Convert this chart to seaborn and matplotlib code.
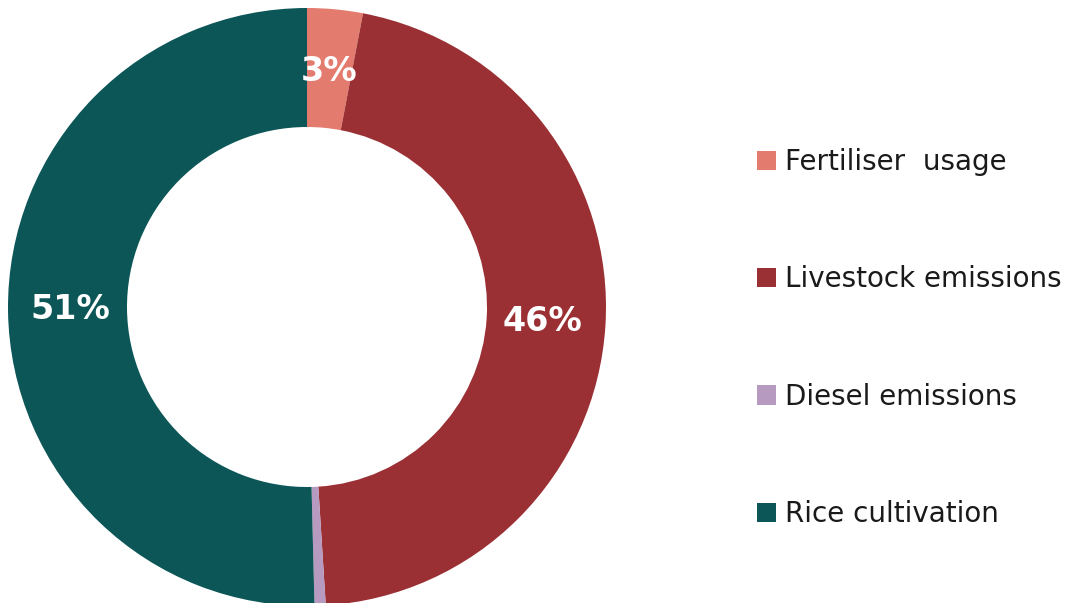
import matplotlib
matplotlib.use("Agg")
import matplotlib.pyplot as plt
import seaborn as sns

categories = ["Fertiliser  usage", "Livestock emissions", "Diesel emissions", "Rice cultivation"]
values = [3.0, 46.0, 0.6, 50.4]
pct_labels = ["3%", "46%", "", "51%"]
colors = ["#E47B6F", "#9B3034", "#B79AC0", "#0C5657"]

sns.set_theme(style="white")
plt.rcParams["font.family"] = ["DejaVu Sans"]

fig = plt.figure(figsize=(10.73, 6.03), dpi=100)
W, H = 1073, 603
cx, cy, R = 307, 307, 300
ax = fig.add_axes([(cx - R) / W, (H - cy - R) / H, 2 * R / W, 2 * R / H])

wedges, texts = ax.pie(
    values, colors=colors, startangle=90, counterclock=False,
    radius=299 / 300, labels=pct_labels, labeldistance=0.79,
    wedgeprops=dict(width=119 / 300, edgecolor="none"),
    textprops=dict(color="white", fontsize=24, fontweight="bold"),
)
for t in texts:
    t.set_ha("center")
    t.set_va("center")
ax.set_xlim(-1, 1)
ax.set_ylim(-1, 1)
ax.set_aspect("equal")
ax.axis("off")

leg = fig.legend(
    wedges, categories, loc="upper left",
    bbox_to_anchor=(757 / W, 1 - 148 / H), frameon=False,
    fontsize=20, handlelength=0.7, handleheight=0.7, handletextpad=0.3,
    labelspacing=3.22, borderpad=0, borderaxespad=0,
)
for txt in leg.get_texts():
    txt.set_color("#1a1a1a")

fig.savefig("out.png", dpi=100, facecolor="white")
